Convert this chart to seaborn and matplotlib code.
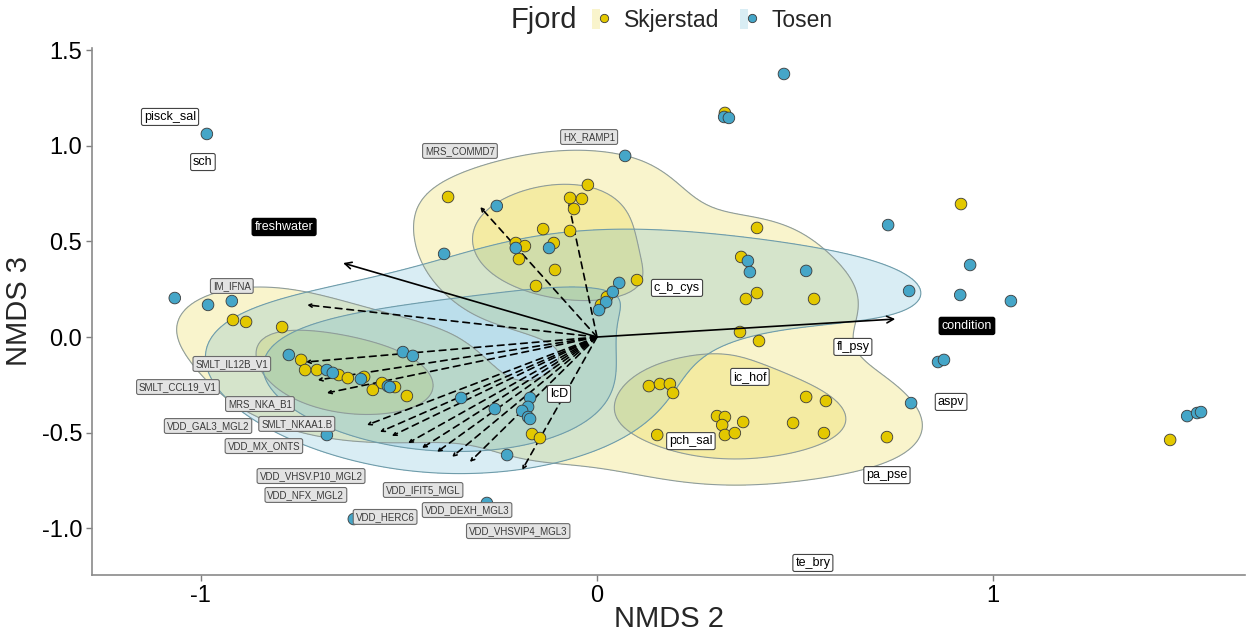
import numpy as np
import pandas as pd
import matplotlib
matplotlib.use("Agg")
import matplotlib.pyplot as plt
from matplotlib.patches import Patch
from matplotlib.lines import Line2D
from matplotlib.legend_handler import HandlerTuple
import seaborn as sns

# ---- site scores (NMDS axis 2 / axis 3) ----
skjerstad_x = [0.323, -0.376, -0.023, -0.068, -0.038, -0.058, -0.136, -0.068, -0.205, -0.182,
               -0.197, -0.109, -0.106, -0.154, 0.101, 0.025, 0.010, 0.364, 0.404, 0.919,
               0.376, 0.404, 0.548, 0.361, 0.409, -0.919, -0.886, -0.795, -0.747, -0.737,
               -0.707, -0.652, -0.629, -0.588, -0.543, -0.566, -0.510, -0.480, -0.164, -0.144,
               0.131, 0.159, 0.184, 0.192, 0.303, 0.323, 0.316, 0.369, 0.323, 0.348,
               0.152, 0.528, 0.578, 0.495, 0.573, 0.732, 1.447]
skjerstad_y = [1.173, 0.733, 0.796, 0.728, 0.723, 0.670, 0.565, 0.555, 0.492, 0.476,
               0.408, 0.492, 0.351, 0.267, 0.298, 0.209, 0.168, 0.419, 0.571, 0.696,
               0.199, 0.230, 0.199, 0.026, -0.021, 0.089, 0.079, 0.052, -0.120, -0.173,
               -0.173, -0.199, -0.215, -0.209, -0.241, -0.277, -0.262, -0.309, -0.508, -0.529,
               -0.257, -0.246, -0.246, -0.293, -0.414, -0.419, -0.461, -0.445, -0.513, -0.503,
               -0.513, -0.314, -0.335, -0.450, -0.503, -0.524, -0.539]

tosen_x = [0.472, -0.985, 0.321, 0.333, 0.071, -0.253, -0.386, -0.205, -0.121, 0.056,
           0.040, 0.023, 0.005, 0.381, 0.386, 0.528, 0.735, 0.942, 0.788, 0.917,
           1.045, 0.861, 0.876, 0.793, 1.490, 1.515, 1.525, -1.066, -0.982, -0.922,
           -0.778, -0.682, -0.667, -0.596, -0.528, -0.523, -0.490, -0.465, -0.682, -0.343,
           -0.258, -0.169, -0.174, -0.189, -0.174, -0.169, -0.227, -0.278, -0.614]
tosen_y = [1.377, 1.063, 1.152, 1.147, 0.948, 0.686, 0.435, 0.466, 0.466, 0.283,
           0.236, 0.183, 0.141, 0.398, 0.340, 0.346, 0.586, 0.377, 0.241, 0.220,
           0.188, -0.131, -0.120, -0.346, -0.414, -0.398, -0.393, 0.204, 0.168, 0.188,
           -0.094, -0.173, -0.188, -0.220, -0.257, -0.262, -0.079, -0.099, -0.513, -0.319,
           -0.377, -0.319, -0.366, -0.387, -0.419, -0.429, -0.618, -0.869, -0.953]

fjords = ["Skjerstad", "Tosen"]
point_colors = {"Skjerstad": "#E3C800", "Tosen": "#45A6C8"}
outline_colors = {"Skjerstad": "#8E9C9C", "Tosen": "#6F9CAA"}
bandwidth_adjust = {"Skjerstad": 0.85, "Tosen": 1.2}
mass_enclosed = {"Skjerstad": [0.82, 0.38], "Tosen": [0.40, 0.20]}

# ---- environmental vectors ----
env_names = ["freshwater", "condition"]
env_x = [-0.641, 0.753]
env_y = [0.387, 0.094]
env_label_x = [-0.79, 0.934]
env_label_y = [0.576, 0.058]

# ---- gene vectors ----
gene_names = ["MRS_COMMD7", "HX_RAMP1", "IM_IFNA", "SMLT_IL12B_V1", "SMLT_CCL19_V1",
              "MRS_NKA_B1", "SMLT_NKAA1.B", "VDD_GAL3_MGL2", "VDD_MX_ONTS",
              "VDD_VHSV.P10_MGL2", "VDD_NFX_MGL2", "VDD_IFIT5_MGL", "VDD_HERC6",
              "VDD_DEXH_MGL3", "VDD_VHSVIP4_MGL3"]
gene_x = [-0.295, -0.076, -0.732, -0.735, -0.705, -0.682, -0.581, -0.548, -0.518,
          -0.477, -0.442, -0.404, -0.366, -0.321, -0.189]
gene_y = [0.681, 0.743, 0.168, -0.131, -0.225, -0.293, -0.461, -0.497, -0.518,
          -0.555, -0.581, -0.602, -0.628, -0.654, -0.696]
gene_label_x = [-0.346, -0.020, -0.922, -0.922, -1.058, -0.851, -0.758, -0.982, -0.841,
                -0.722, -0.735, -0.439, -0.535, -0.328, -0.199]
gene_label_y = [0.974, 1.047, 0.267, -0.141, -0.262, -0.351, -0.455, -0.466, -0.571,
                -0.728, -0.827, -0.801, -0.942, -0.906, -1.016]

# ---- species labels ----
species_names = ["pisck_sal", "sch", "c_b_cys", "fl_psy", "ic_hof", "lcD", "aspv",
                 "pch_sal", "pa_pse", "te_bry"]
species_x = [-1.078, -0.995, 0.202, 0.646, 0.386, -0.096, 0.894, 0.237, 0.732, 0.545]
species_y = [1.152, 0.916, 0.257, -0.052, -0.209, -0.298, -0.340, -0.545, -0.723, -1.183]

df = pd.DataFrame({
    "NMDS2": skjerstad_x + tosen_x,
    "NMDS3": skjerstad_y + tosen_y,
    "Fjord": ["Skjerstad"] * len(skjerstad_x) + ["Tosen"] * len(tosen_x),
})


def nrd(v):
    """Normal-reference bandwidth (per axis)."""
    v = np.asarray(v)
    q75, q25 = np.percentile(v, [75, 25])
    s = min(np.std(v, ddof=1), (q75 - q25) / 1.34)
    return 1.06 * s * len(v) ** (-0.2)


def density_grid(x, y, adjust, n=260):
    x = np.asarray(x)
    y = np.asarray(y)
    hx, hy = nrd(x) * adjust, nrd(y) * adjust
    gx = np.linspace(-1.6, 2.0, n)
    gy = np.linspace(-1.6, 1.8, n)
    kx = np.exp(-0.5 * ((gx[:, None] - x[None, :]) / hx) ** 2)
    ky = np.exp(-0.5 * ((gy[:, None] - y[None, :]) / hy) ** 2)
    z = ky @ kx.T / (len(x) * 2 * np.pi * hx * hy)
    return gx, gy, z


sns.set_theme(style="white")
plt.rcParams["font.family"] = ["Liberation Sans", "DejaVu Sans"]

fig = plt.figure(figsize=(12.48, 6.34), dpi=100)
ax = fig.add_axes([92 / 1248, 59 / 634, (1245 - 92) / 1248, (575 - 48) / 634])

# density regions per fjord; outer and inner mass contours
for g in fjords:
    sub = df[df["Fjord"] == g]
    gx, gy, z = density_grid(sub["NMDS2"], sub["NMDS3"], adjust=bandwidth_adjust[g])
    vals = np.sort(z.ravel())[::-1]
    cum = np.cumsum(vals) / vals.sum()
    for p in mass_enclosed[g]:
        lv = vals[np.searchsorted(cum, p)]
        ax.contourf(gx, gy, z, levels=[lv, z.max() * 1.01], colors=[point_colors[g]],
                    alpha=0.2, zorder=1)
        ax.contour(gx, gy, z, levels=[lv], colors=[outline_colors[g]], linewidths=0.8,
                   zorder=1.5)

# gene vectors (dashed)
for gx_, gy_ in zip(gene_x, gene_y):
    ax.annotate("", xy=(gx_, gy_), xytext=(0, 0),
                arrowprops=dict(arrowstyle="->", linestyle=(0, (4, 3)), lw=1.2,
                                color="black", shrinkA=0, shrinkB=0, mutation_scale=6),
                zorder=2)

# points
sns.scatterplot(data=df, x="NMDS2", y="NMDS3", hue="Fjord", palette=point_colors,
                s=70, edgecolor="#3a3a3a", linewidth=0.6, ax=ax, legend=False, zorder=3)

# environmental vectors (solid)
for ex, ey in zip(env_x, env_y):
    ax.annotate("", xy=(ex, ey), xytext=(0, 0),
                arrowprops=dict(arrowstyle="->", lw=1.2, color="black",
                                shrinkA=0, shrinkB=0, mutation_scale=12),
                zorder=4)
for name, lx, ly in zip(env_names, env_label_x, env_label_y):
    ax.text(lx, ly, name, fontsize=9, color="white", ha="center", va="center", zorder=6,
            bbox=dict(boxstyle="round,pad=0.2,rounding_size=0.15", fc="black", ec="black"))

# gene labels
for name, lx, ly in zip(gene_names, gene_label_x, gene_label_y):
    ax.text(lx, ly, name, fontsize=7, color="#3a3a3a", ha="center", va="center", zorder=6,
            bbox=dict(boxstyle="round,pad=0.25,rounding_size=0.2", fc="#E3E3E3",
                      ec="#6a6a6a", lw=0.8))

# species labels
for name, lx, ly in zip(species_names, species_x, species_y):
    ax.text(lx, ly, name, fontsize=9, color="black", ha="center", va="center", zorder=6,
            bbox=dict(boxstyle="round,pad=0.2,rounding_size=0.15", fc="white",
                      ec="#444444", lw=0.8))

ax.set_xlim(-1.275, 1.636)
ax.set_ylim(-1.246, 1.513)
ax.set_xticks([-1, 0, 1])
ax.set_xticklabels(["-1", "0", "1"])
ax.set_yticks([-1.0, -0.5, 0.0, 0.5, 1.0, 1.5])
ax.set_yticklabels(["-1.0", "-0.5", "0.0", "0.5", "1.0", "1.5"])
ax.set_xlabel("NMDS 2", fontsize=21, labelpad=-1)
ax.set_ylabel("NMDS 3", fontsize=21, labelpad=6)
ax.tick_params(axis="both", labelsize=17, colors="#7f7f7f", labelcolor="black",
               length=4, width=1, left=True, bottom=True, pad=3)
for side in ["top", "right"]:
    ax.spines[side].set_visible(False)
for side in ["left", "bottom"]:
    ax.spines[side].set_color("#8a8a8a")
    ax.spines[side].set_linewidth(1.2)

# legend along the top
handles = []
for g in fjords:
    bg = Patch(facecolor=point_colors[g], alpha=0.2, edgecolor="none")
    dot = Line2D([], [], marker="o", linestyle="none", markersize=6,
                 markerfacecolor=point_colors[g], markeredgecolor="#3a3a3a",
                 markeredgewidth=0.6)
    handles.append((bg, dot))
fig.text(0.409, 0.968, "Fjord", fontsize=21, ha="left", va="center")
fig.legend(handles, fjords, handler_map={tuple: HandlerTuple(ndivide=None, pad=0)},
           ncol=2, frameon=False, fontsize=16.5, loc="center left",
           bbox_to_anchor=(0.474, 0.968), handlelength=0.7, handleheight=1.0,
           handletextpad=0.7, columnspacing=0.9, borderpad=0, borderaxespad=0)

fig.savefig("out.png", dpi=100)
